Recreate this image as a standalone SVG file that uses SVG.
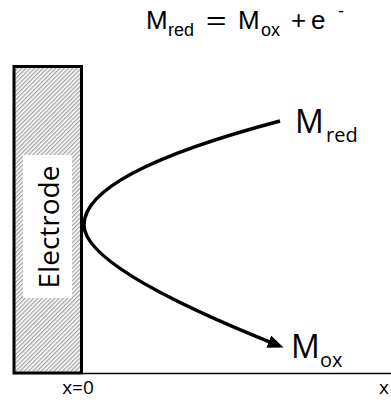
<svg xmlns="http://www.w3.org/2000/svg" width="391" height="400" viewBox="0 0 391 400">
<style>
.eq{font-family:"Liberation Sans",Arial,sans-serif;fill:#000}
.lbl{font-family:"Open Sans","Noto Sans",sans-serif;fill:#000}
.conn{fill:none;stroke:#000;stroke-width:3.5}
</style>
<defs>
<pattern id="hatch" width="3" height="3" patternUnits="userSpaceOnUse" patternTransform="rotate(45)">
<rect width="3" height="3" fill="#fff"/>
<line x1="0.75" y1="0" x2="0.75" y2="3" stroke="#9a9a9a" stroke-width="1.2"/>
</pattern>
<marker id="arr" markerUnits="userSpaceOnUse" markerWidth="17" markerHeight="14" refX="10" refY="6.5" orient="auto">
<path d="M0,0 L16,6.5 L0,13 z" fill="#000"/>
</marker>
</defs>
<rect width="391" height="400" fill="#fff"/>
<g id="equation">
<text class="eq" font-size="26" x="146" y="29">M</text>
<text class="eq" font-size="18" x="168" y="36">red</text>
<text class="eq" font-size="26" x="206" y="29" transform="translate(206,0) scale(1.35,1) translate(-206,0)">=</text>
<text class="eq" font-size="26" x="238" y="29">M</text>
<text class="eq" font-size="18" x="261" y="36">ox</text>
<text class="eq" font-size="26" x="291" y="29">+</text>
<text class="eq" font-size="26" x="311" y="29">e</text>
<text class="eq" font-size="18" x="338" y="17">-</text>
</g>
<g id="electrode">
<rect x="14" y="66.5" width="67.5" height="306.5" fill="url(#hatch)" stroke="#000" stroke-width="3"/>
<rect x="23" y="155" width="49" height="143" fill="#fff"/>
<text class="lbl" font-size="28" text-anchor="middle" transform="translate(59,227) rotate(-90)">Electrode</text>
</g>
<g id="axis">
<line x1="82" y1="373.5" x2="391" y2="373.5" stroke="#000" stroke-width="1.5"/>
<text class="lbl" font-size="19" x="78" y="394" text-anchor="middle">x=0</text>
<text class="lbl" font-size="19" x="379" y="394">x</text>
</g>
<g id="m-red">
<text class="lbl" font-size="32" x="295" y="133">M</text>
<text class="lbl" font-size="20" x="326" y="142">red</text>
</g>
<g id="m-ox">
<text class="lbl" font-size="32" x="291" y="358">M</text>
<text class="lbl" font-size="20" x="320" y="367">ox</text>
</g>
<g id="connectors">
<path class="conn" d="M280,121 Q84,173 84,225 Q84,268 278,345.3" marker-end="url(#arr)"/>
</g>
</svg>
